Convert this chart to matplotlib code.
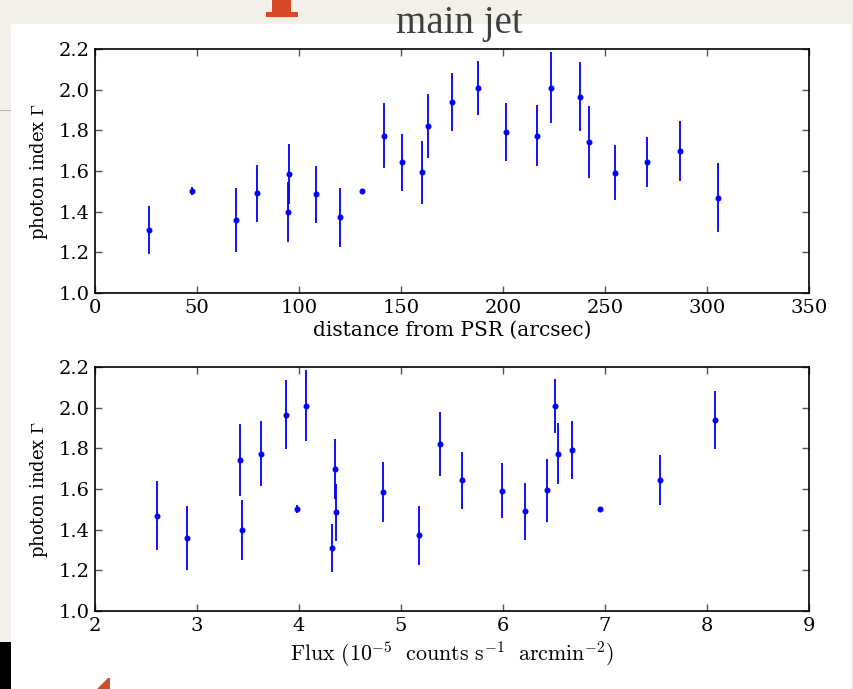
import numpy as np
import matplotlib
matplotlib.use("Agg")
from matplotlib import pyplot as plt
from matplotlib.patches import Rectangle, Polygon

# photon index per region (shared by both panels)
distance = [26.6, 47.5, 69.0, 79.2, 94.4, 95.3, 108.3, 119.9, 131.0, 141.5, 150.6, 160.4,
            163.1, 174.9, 187.6, 201.3, 216.7, 223.5, 237.7, 242.0, 255.0, 270.4, 286.9, 305.5]
gamma = [1.31, 1.50, 1.357, 1.49, 1.397, 1.584, 1.485, 1.372, 1.50, 1.774, 1.643, 1.594,
         1.823, 1.94, 2.007, 1.79, 1.774, 2.01, 1.966, 1.743, 1.592, 1.644, 1.698, 1.469]
gamma_err = [0.12, 0.02, 0.157, 0.14, 0.148, 0.148, 0.139, 0.144, 0.0, 0.16, 0.141, 0.154,
             0.157, 0.142, 0.134, 0.143, 0.151, 0.175, 0.17, 0.175, 0.137, 0.125, 0.147, 0.17]
flux = [4.32, 3.984, 2.899, 6.216, 3.438, 4.827, 4.366, 5.176, 6.948, 3.624, 5.601, 6.428,
        5.382, 8.075, 6.51, 6.676, 6.536, 4.069, 3.873, 3.418, 5.987, 7.536, 4.353, 2.611]

y_ticks = [1.0, 1.2, 1.4, 1.6, 1.8, 2.0, 2.2]
dist_ticks = [0, 50, 100, 150, 200, 250, 300, 350]
flux_ticks = [2, 3, 4, 5, 6, 7, 8, 9]

W, H = 854, 689
plt.rcParams["font.family"] = "DejaVu Serif"
plt.rcParams["mathtext.fontset"] = "cm"

fig = plt.figure(figsize=(W / 100, H / 100), dpi=100)
fig.patch.set_facecolor("#f3f0ea")


def deco(patch):
    # slide decorations sit behind the axes
    patch.set_transform(fig.transFigure)
    patch.set_zorder(-5)
    fig.patches.append(patch)


deco(Rectangle((11 / W, 0), 840 / W, (H - 24) / H, facecolor="white", edgecolor="none"))
deco(Rectangle((0, 0), 11 / W, 47 / H, facecolor="black", edgecolor="none"))
deco(Rectangle((0, (H - 111) / H), 11 / W, 1.5 / H, facecolor="#b8b5b0", edgecolor="none"))
deco(Polygon([(97 / W, 0), (110 / W, 0), (110 / W, 11 / H), (108 / W, 11 / H)],
             closed=True, facecolor="#c9502e", edgecolor="none"))
deco(Polygon([(272 / W, 1), (291 / W, 1), (291 / W, (H - 12) / H), (298 / W, (H - 12) / H),
              (298 / W, (H - 17) / H), (266 / W, (H - 17) / H), (266 / W, (H - 12) / H),
              (272 / W, (H - 12) / H)],
             closed=True, facecolor="#d84a2a", edgecolor="none"))
fig.text(459 / W, 1 - 33 / H, "main jet", ha="center", va="baseline",
         fontsize=28, color="#3f3f3f", family="Liberation Serif")


def style(ax, xticks, xlabel, xlabel_size):
    ax.set_facecolor("white")
    ax.set_ylim(1.0, 2.2)
    ax.set_yticks(y_ticks)
    ax.set_yticklabels([f"{t:.1f}" for t in y_ticks])
    ax.set_xticks(xticks)
    ax.set_xlim(xticks[0], xticks[-1])
    ax.tick_params(direction="in", top=True, right=True, length=5, width=1,
                   color="#555555", labelsize=14, pad=4)
    for s in ax.spines.values():
        s.set_linewidth(1.2)
    ax.set_ylabel(r"photon index $\Gamma$", fontsize=13, labelpad=6)
    ax.set_xlabel(xlabel, fontsize=xlabel_size, labelpad=3)


ax1 = fig.add_axes([95 / W, (H - 293) / H, 714 / W, 244 / H])
ax1.errorbar(distance, gamma, yerr=gamma_err, fmt="o", color="blue",
             markersize=3.3, elinewidth=1.3, capsize=0)
style(ax1, dist_ticks, "distance from PSR (arcsec)", 14.5)

ax2 = fig.add_axes([95 / W, (H - 611) / H, 714 / W, 244 / H])
ax2.errorbar(flux, gamma, yerr=gamma_err, fmt="o", color="blue",
             markersize=3.3, elinewidth=1.3, capsize=0)
style(ax2, flux_ticks,
      r"$\mathrm{Flux\ (10^{-5}\ \ counts\ s^{-1}\ \ arcmin^{-2})}$", 15.8)

fig.savefig("out.png", dpi=100, facecolor=fig.get_facecolor())
